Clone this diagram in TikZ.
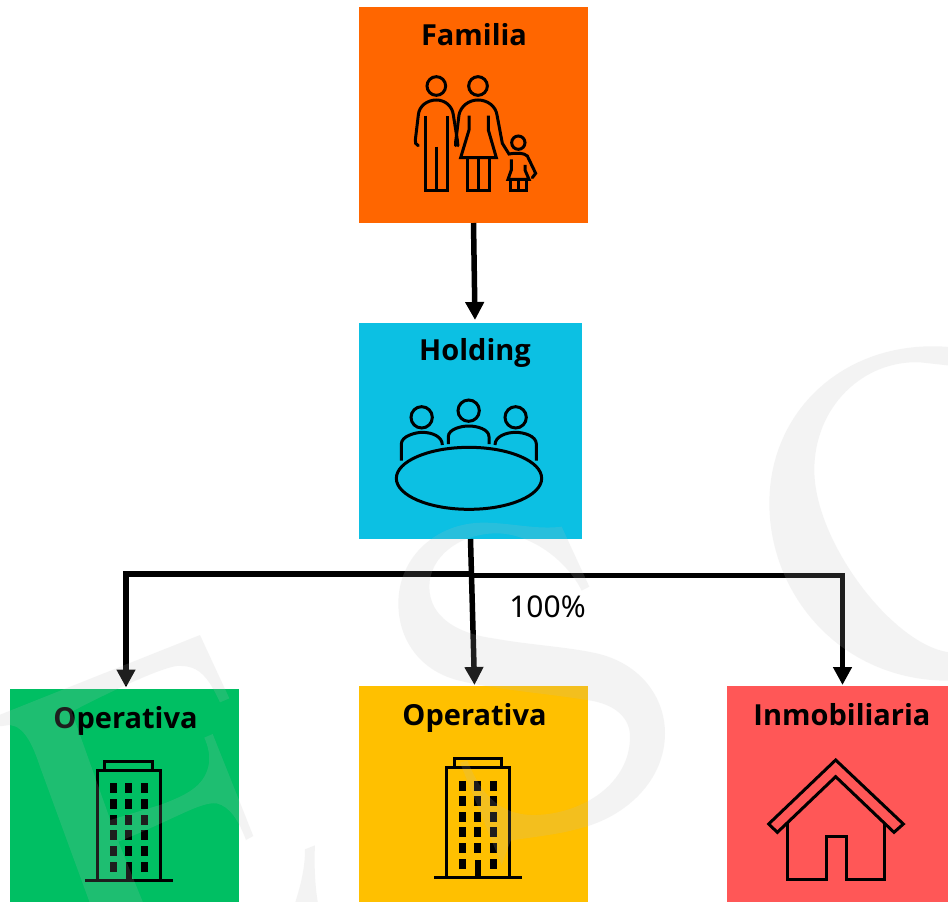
\documentclass[tikz,border=0pt]{standalone}
\usepackage{fontspec}
\setmainfont{Noto Sans}
\newfontfamily\titlefont{Open Sans}
\usetikzlibrary{arrows.meta}
\definecolor{cfam}{HTML}{FF6600}
\definecolor{chold}{HTML}{0CC0E3}
\definecolor{cgreen}{HTML}{00BF63}
\definecolor{cyel}{HTML}{FFC000}
\definecolor{cred}{HTML}{FF5757}
\definecolor{wm}{HTML}{BCBCBC}
\tikzset{
  boxst/.style={draw=none,inner sep=0pt,outer sep=0pt},
  title/.style={anchor=base,inner sep=0pt,font=\titlefont\fontsize{29pt}{30pt}\selectfont\bfseries},
  link/.style={draw=black,line width=5.5pt,-{Triangle[length=18pt,width=18pt]}},
  icon/.style={draw=black,line width=3pt,line join=miter,fill=none},
  wmark/.style={fill=wm,fill opacity=0.165,draw=none},
  z3/.style={x=0.33333pt,y=-0.33333pt}
}
\begin{document}
\begin{tikzpicture}[x=1pt,y=-1pt]
\useasboundingbox (0,0) rectangle (948,902);
\fill[white] (0,0) rectangle (948,902);
% boxes
\node[boxst,fill=cfam,minimum width=229pt,minimum height=216pt] (fam) at (473.5,115) {};
\node[boxst,fill=chold,minimum width=223pt,minimum height=216pt] (hold) at (470.5,431) {};
\node[boxst,fill=cgreen,minimum width=229pt,minimum height=213pt] (opa) at (124.5,795.5) {};
\node[boxst,fill=cyel,minimum width=229pt,minimum height=216pt] (opb) at (473.5,794) {};
\node[boxst,fill=cred,minimum width=221pt,minimum height=216pt] (inm) at (837.5,794) {};
% connector ends
\coordinate (tipH) at (475,320);
\coordinate (tipA) at (126,687.5);
\coordinate (tipB) at (474.5,685);
\coordinate (tipC) at (842.5,685);
\coordinate (busL) at (126,574);
\coordinate (busR) at (842.5,575.5);
\coordinate (busML) at (470.5,574);
\coordinate (busMR) at (470.5,575.5);
% connectors
\draw[link] (fam.south) -- (tipH);
\draw[link] (hold.south) -- (tipB);
\draw[link,line join=miter] (busML) -- (busL) -- (tipA);
\draw[link,line join=miter] (busMR) -- (busR) -- (tipC);
% labels
\node[title] (lfam) at (474,45) {Familia};
\node[title] (lhold) at (475,360) {Holding};
\node[title] (lopa) at (125.5,728) {Operativa};
\node[title] (lopb) at (474.5,725) {Operativa};
\node[title] (linm) at (842,725.5) {Inmobiliaria};
\node[anchor=base,inner sep=0pt,font=\fontsize{30pt}{31pt}\selectfont] (pct) at (547.5,617) {100\%};
% family icon
\begin{scope}[shift={(359,0)},z3]
\draw[icon] (232,258) circle[radius=28];
\draw[icon] (357,258) circle[radius=28];
\draw[icon] (478,428) circle[radius=20];
\draw[icon,line cap=round] (178,437) .. controls (170,434) and (168,428) .. (169,420) -- (178,345) .. controls (180,318) and (205,300) .. (232,300) .. controls (258,300) and (280,318) .. (283,345) -- (295,420) .. controls (296,428) and (296,433) .. (297,437);
\draw[icon] (200,347) -- (200,573) -- (264,573) -- (264,347);
\draw[icon] (232,440) -- (232,573);
\draw[icon,line cap=round] (290,437) .. controls (289,428) and (290,424) .. (291,418) -- (300,345) .. controls (305,318) and (330,300) .. (357,300) .. controls (385,300) and (410,318) .. (414,345) -- (430,430) -- (450,462) .. controls (470,458) and (495,458) .. (505,468) -- (530,520) -- (520,533);
\draw[icon] (330,347) -- (330,390) -- (305,473) -- (412,473) -- (388,390) -- (388,347);
\draw[icon] (326,473) -- (326,573) -- (390,573) -- (390,473);
\draw[icon] (358,473) -- (358,573);
\draw[icon] (457,478) -- (457,510) -- (447,538) -- (510,538) -- (498,510) -- (498,495);
\draw[icon] (455,538) -- (455,573) -- (502,573) -- (502,538);
\draw[icon] (478,538) -- (478,573);
\end{scope}
% holding icon
\begin{scope}[shift={(359,320)},z3]
\draw[icon] (188,292) circle[radius=32];
\draw[icon] (329,272) circle[radius=32];
\draw[icon] (470,292) circle[radius=32];
\draw[icon] (330,475) ellipse[x radius=218,y radius=93];
\draw[icon] (127,422) -- (127,372) .. controls (127,348) and (170,337) .. (190,337) .. controls (220,337) and (250,350) .. (250,375);
\draw[icon] (268,372) -- (268,350) .. controls (268,328) and (305,318) .. (329,318) .. controls (355,318) and (390,328) .. (390,350) -- (390,372);
\draw[icon] (408,375) .. controls (408,350) and (440,337) .. (470,337) .. controls (495,337) and (532,348) .. (532,372) -- (532,422);
\end{scope}
% buildings
\foreach \sx/\sy in {0/680,349/677.3}{
\begin{scope}[shift={(\sx,\sy)},z3]
\draw[icon] (292,602) -- (292,270) -- (482,270) -- (482,602);
\draw[icon] (315,270) -- (315,243) -- (458,243) -- (458,270);
\draw[icon] (255,602) -- (518,602);
\fill[black] (378,547) rectangle (396,602);
\foreach \cx in {330,376,423}{
 \foreach \cy in {310,357,405,450,498}{
  \fill[black] (\cx,\cy) rectangle ++(20,30);
 }
}
\fill[black] (330,545) rectangle ++(20,30);
\fill[black] (423,545) rectangle ++(20,30);
\end{scope}
}
% house
\begin{scope}[shift={(720,680)},z3]
\draw[icon] (347,240) -- (550,432) -- (522,457) -- (347,290) -- (172,457) -- (146,432) -- cycle;
\draw[icon] (202,430) -- (202,597) -- (318,597) -- (318,470) -- (378,470) -- (378,597) -- (494,597) -- (494,430);
\end{scope}
% watermark
\begin{scope}
\clip (0,0) rectangle (948,902);
% E
\begin{scope}[shift={(0,610)},z3]
\fill[wmark] (-10,318) -- (600,75) -- (688,265) -- (660,277) .. controls (620,190) and (590,165) .. (530,168) .. controls (480,175) and (340,240) .. (215,305) -- (331,630) -- (480,585) .. controls (560,555) and (610,530) .. (625,470) .. controls (632,440) and (625,410) .. (613,383) -- (638,372) -- (760,678) -- (738,690) .. controls (715,630) and (690,590) .. (650,580) .. controls (600,575) and (530,625) .. (355,695) -- (430,880) -- (270,880) -- (120,470) .. controls (100,410) and (75,350) .. (30,345) -- (-10,350) -- cycle;
\fill[wmark] (945,706) -- (915,718) .. controls (915,780) and (900,830) .. (885,880) -- (954,880) .. controls (945,830) and (942,760) .. (945,706) -- cycle;
\end{scope}
% S
\begin{scope}[shift={(380,520)},z3]
\fill[wmark] (545,20) -- (628,200) -- (605,212) .. controls (560,120) and (450,40) .. (350,40) .. controls (240,40) and (148,110) .. (148,200) .. controls (148,290) and (230,340) .. (340,355) .. controls (450,375) and (560,380) .. (650,400) .. controls (780,430) and (855,530) .. (855,640) .. controls (855,780) and (740,890) .. (600,925) .. controls (530,945) and (460,950) .. (392,962) -- (365,1035) -- (240,728) -- (262,722) .. controls (290,790) and (340,890) .. (470,885) .. controls (610,880) and (750,790) .. (750,650) .. controls (750,590) and (700,550) .. (620,540) .. controls (500,520) and (350,510) .. (230,480) .. controls (120,450) and (55,360) .. (55,250) .. controls (55,110) and (170,8) .. (310,8) .. controls (390,8) and (470,30) .. (545,20) -- cycle;
\end{scope}
% C
\begin{scope}[shift={(700,330)},z3]
\fill[wmark] (760,52) .. controls (450,20) and (208,230) .. (208,520) .. controls (208,800) and (430,1060) .. (760,1052) -- (760,968) .. controls (590,960) and (343,640) .. (343,420) .. controls (343,230) and (490,90) .. (660,97) -- (760,108) -- cycle;
\end{scope}
\end{scope}
\end{tikzpicture}
\end{document}
